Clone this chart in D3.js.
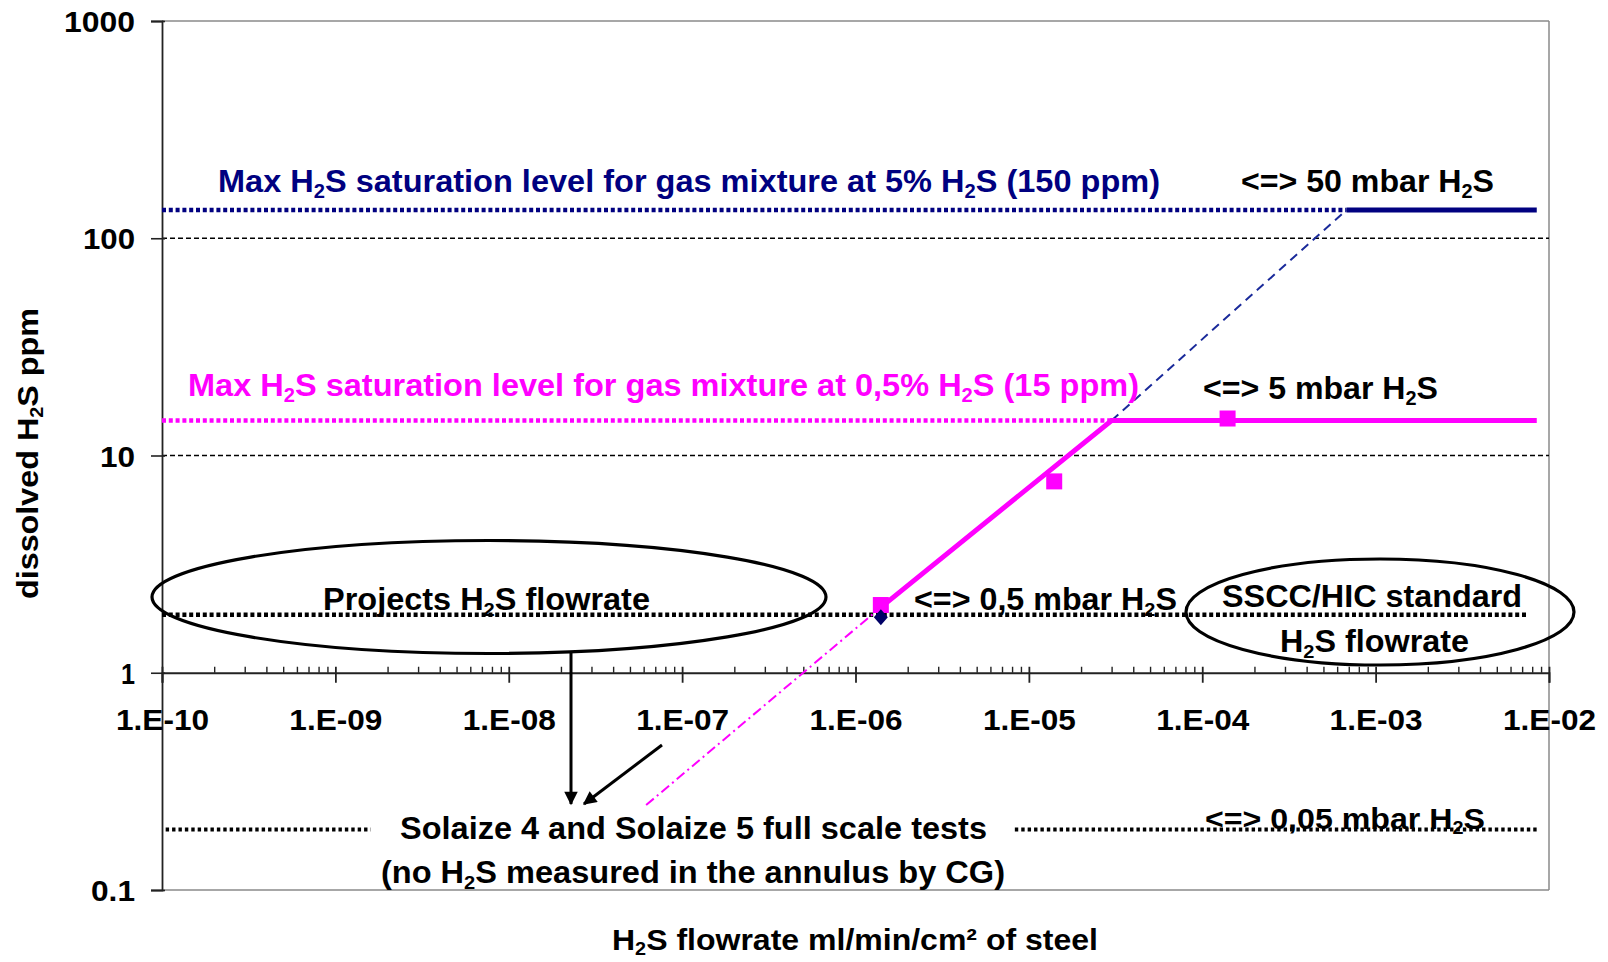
<!DOCTYPE html>
<html>
<head>
<meta charset="utf-8">
<script src="https://cdn.jsdelivr.net/npm/d3@7"></script>
<style>
  html, body { margin: 0; padding: 0; background: #fff; }
  svg { display: block; }
</style>
</head>
<body>
<svg id="chart" width="1608" height="962"></svg>
<script>
// ---------- data ----------
const xTickValues = [1e-10, 1e-9, 1e-8, 1e-7, 1e-6, 1e-5, 1e-4, 1e-3, 1e-2];
const xTickLabels = ["1.E-10", "1.E-09", "1.E-08", "1.E-07", "1.E-06", "1.E-05", "1.E-04", "1.E-03", "1.E-02"];
const yTickValues = [0.1, 1, 10, 100, 1000];
const yTickLabels = ["0.1", "1", "10", "100", "1000"];

// measured points (pink squares) and diamond
const squareX = [1.4e-6, 1.4e-5, 1.4e-4];
const squareY = [2.05, 7.6, 14.8];
const diamondX = [1.4e-6];
const diamondY = [1.8];

// saturation level 5% H2S (navy)
const sat5DottedX = [1e-10, 6.8e-4];
const sat5DottedY = [135, 135];
const sat5SolidX = [6.8e-4, 8.5e-3];
const sat5SolidY = [135, 135];
const sat5DashX = [3e-5, 6.8e-4];
const sat5DashY = [14.5, 135];

// saturation level 0.5% H2S (magenta)
const sat05DottedX = [1e-10, 3e-5];
const sat05DottedY = [14.5, 14.5];
const sat05SolidX = [1.4e-6, 3e-5, 8.5e-3];
const sat05SolidY = [2.0, 14.5, 14.5];
const sat05DashDotX = [6.2e-8, 1.4e-6];
const sat05DashDotY = [0.246, 2.0];

// 0.5 mbar and 0.05 mbar reference levels (black dotted)
const lvl05X = [1e-10, 7.5e-3];
const lvl05Y = [1.85, 1.85];
const lvl005X1 = [1.05e-10, 1.6e-9];
const lvl005X2 = [8.3e-6, 8.5e-3];
const lvl005Y = [0.19, 0.19];

// ---------- setup ----------
const FONT = "'Liberation Sans', Arial, Helvetica, sans-serif";
const svg = d3.select("#chart");
const plotL = 162, plotR = 1549, plotT = 21, plotB = 890;

const x = d3.scaleLog().domain([1e-10, 1e-2]).range([plotL, plotR]);
const y = d3.scaleLog().domain([0.1, 1000]).range([plotB, plotT]);

const pts = (xs, ys) => xs.map((v, i) => [v, ys[i]]);
const line = d3.line().x(d => x(d[0])).y(d => y(d[1]));

// ---------- frame & gridlines ----------
svg.append("line").attr("x1", plotL).attr("x2", plotR).attr("y1", y(1000)).attr("y2", y(1000))
  .attr("stroke", "#8a8a8a").attr("stroke-width", 1.5);
svg.append("line").attr("x1", plotL).attr("x2", plotR).attr("y1", y(0.1)).attr("y2", y(0.1))
  .attr("stroke", "#8a8a8a").attr("stroke-width", 1.5);
svg.append("line").attr("x1", plotR).attr("x2", plotR).attr("y1", y(1000)).attr("y2", y(0.1))
  .attr("stroke", "#8a8a8a").attr("stroke-width", 1.5);

[100, 10].forEach(v => {
  svg.append("line").attr("x1", plotL).attr("x2", plotR).attr("y1", y(v)).attr("y2", y(v))
    .attr("stroke", "#000").attr("stroke-width", 1.3).attr("stroke-dasharray", "5,3");
});

// ---------- y axis ----------
const yAxis = svg.append("g").attr("transform", `translate(${plotL},0)`)
  .call(d3.axisLeft(y).tickValues(yTickValues).tickSize(11).tickPadding(16)
    .tickFormat((d, i) => yTickLabels[i]));
yAxis.select(".domain").attr("stroke", "#222").attr("stroke-width", 1.8);
yAxis.selectAll(".tick line").attr("stroke", "#222").attr("stroke-width", 1.6).attr("x2", -11).attr("x1", 3);
yAxis.selectAll(".tick text")
  .attr("font-family", FONT).attr("font-size", 30).attr("font-weight", "bold").attr("fill", "#000")
  .attr("dy", "0.35em")
  .attr("textLength", (d, i) => [44, 14, 35, 52, 71][i]).attr("lengthAdjust", "spacingAndGlyphs");

// ---------- x axis (crossing at 1) ----------
const minorTicks = [];
xTickValues.slice(0, -1).forEach(d => { for (let k = 2; k <= 9; k++) minorTicks.push(d * k); });

const xMinor = svg.append("g").attr("transform", `translate(0,${y(1)})`)
  .call(d3.axisTop(x).tickValues(minorTicks).tickSize(6).tickFormat(""));
xMinor.select(".domain").remove();
xMinor.selectAll(".tick line").attr("stroke", "#222").attr("stroke-width", 1.4);

const xAxis = svg.append("g").attr("transform", `translate(0,${y(1)})`)
  .call(d3.axisBottom(x).tickValues(xTickValues).tickSize(10).tickPadding(36)
    .tickFormat((d, i) => xTickLabels[i]));
xAxis.select(".domain").attr("stroke", "#222").attr("stroke-width", 1.8);
xAxis.selectAll(".tick line").attr("stroke", "#222").attr("stroke-width", 1.8).attr("y1", -6);
xAxis.selectAll(".tick text")
  .attr("font-family", FONT).attr("font-size", 30).attr("font-weight", "bold").attr("fill", "#000")
  .attr("dy", "0")
  .attr("textLength", 93).attr("lengthAdjust", "spacingAndGlyphs");
xAxis.selectAll(".tick text").attr("y", 57);

// ---------- series lines ----------
const DOT = "4,2.8";
svg.append("path").datum(pts(lvl05X, lvl05Y)).attr("d", line)
  .attr("fill", "none").attr("stroke", "#000").attr("stroke-width", 4.5).attr("stroke-dasharray", DOT);
[lvl005X1, lvl005X2].forEach(xs => {
  svg.append("path").datum(pts(xs, lvl005Y)).attr("d", line)
    .attr("fill", "none").attr("stroke", "#000").attr("stroke-width", 4).attr("stroke-dasharray", "3.4,3");
});

svg.append("path").datum(pts(sat5DottedX, sat5DottedY)).attr("d", line)
  .attr("fill", "none").attr("stroke", "#000080").attr("stroke-width", 4.5).attr("stroke-dasharray", DOT);
svg.append("path").datum(pts(sat5DashX, sat5DashY)).attr("d", line)
  .attr("fill", "none").attr("stroke", "#1a2a9a").attr("stroke-width", 2).attr("stroke-dasharray", "9,6");
svg.append("path").datum(pts(sat5SolidX, sat5SolidY)).attr("d", line)
  .attr("fill", "none").attr("stroke", "#000080").attr("stroke-width", 5);

svg.append("path").datum(pts(sat05DottedX, sat05DottedY)).attr("d", line)
  .attr("fill", "none").attr("stroke", "#ff00ff").attr("stroke-width", 4.5).attr("stroke-dasharray", DOT);
svg.append("path").datum(pts(sat05DashDotX, sat05DashDotY)).attr("d", line)
  .attr("fill", "none").attr("stroke", "#ff00ff").attr("stroke-width", 2).attr("stroke-dasharray", "10,4,2,4");
svg.append("path").datum(pts(sat05SolidX, sat05SolidY)).attr("d", line)
  .attr("fill", "none").attr("stroke", "#ff00ff").attr("stroke-width", 5).attr("stroke-linejoin", "miter");

// markers
svg.selectAll(".sq").data(pts(squareX, squareY)).enter().append("rect").attr("class", "sq")
  .attr("x", d => x(d[0]) - 8).attr("y", d => y(d[1]) - 8)
  .attr("width", 16).attr("height", 16).attr("fill", "#ff00ff");
svg.selectAll(".dm").data(pts(diamondX, diamondY)).enter().append("path").attr("class", "dm")
  .attr("transform", d => `translate(${x(d[0])},${y(d[1])})`)
  .attr("d", "M0,-8 L7,0 L0,8 L-7,0 Z").attr("fill", "#000066");

// ---------- ellipses & arrows ----------
svg.append("ellipse").attr("cx", 489).attr("cy", 597).attr("rx", 337).attr("ry", 56.5)
  .attr("fill", "none").attr("stroke", "#000").attr("stroke-width", 3.2);
svg.append("ellipse").attr("cx", 1380).attr("cy", 612).attr("rx", 194).attr("ry", 53)
  .attr("fill", "none").attr("stroke", "#000").attr("stroke-width", 3.2);

svg.append("defs").append("marker").attr("id", "arrow")
  .attr("viewBox", "0 0 10 10").attr("refX", 9).attr("refY", 5)
  .attr("markerWidth", 5).attr("markerHeight", 4.5).attr("orient", "auto")
  .attr("markerUnits", "strokeWidth")
  .append("path").attr("d", "M0,0 L10,5 L0,10 Z").attr("fill", "#000");
svg.append("line").attr("x1", 571).attr("y1", 653).attr("x2", 571).attr("y2", 804)
  .attr("stroke", "#000").attr("stroke-width", 3).attr("marker-end", "url(#arrow)");
svg.append("line").attr("x1", 662).attr("y1", 745).attr("x2", 584).attr("y2", 804)
  .attr("stroke", "#000").attr("stroke-width", 3).attr("marker-end", "url(#arrow)");

// ---------- text ----------
function label(xp, yp, parts, opts) {
  const size = opts.size || 30;
  const t = svg.append("text").attr("x", xp).attr("y", yp)
    .attr("font-family", FONT).attr("font-size", size).attr("font-weight", "bold")
    .attr("fill", opts.color || "#000");
  if (opts.anchor) t.attr("text-anchor", opts.anchor);
  if (opts.transform) t.attr("transform", opts.transform);
  let shifted = false;
  parts.forEach(p => {
    if (typeof p === "string") {
      const s = t.append("tspan").text(p);
      if (shifted) { s.attr("dy", -size * 0.18); shifted = false; }
    } else {
      t.append("tspan").text(p.sub).attr("font-size", size * 0.62).attr("dy", size * 0.18);
      shifted = true;
    }
  });
  if (opts.len) t.attr("textLength", opts.len).attr("lengthAdjust", "spacingAndGlyphs");
  return t;
}

label(218, 192, ["Max H", {sub: "2"}, "S saturation level for gas mixture at 5% H", {sub: "2"}, "S (150 ppm)"],
  {color: "#000080", size: 32, len: 942});
label(1241, 192, ["<=> 50 mbar H", {sub: "2"}, "S"], {size: 32, len: 253});
label(188, 396, ["Max H", {sub: "2"}, "S saturation level for gas mixture at 0,5% H", {sub: "2"}, "S (15 ppm)"],
  {color: "#ff00ff", size: 32, len: 951});
label(1203, 399, ["<=> 5 mbar H", {sub: "2"}, "S"], {size: 32, len: 235});
label(323, 610, ["Projects H", {sub: "2"}, "S flowrate"], {size: 31, len: 327});
label(914, 610, ["<=> 0,5 mbar H", {sub: "2"}, "S"], {size: 31, len: 263});
label(1222, 607, ["SSCC/HIC standard"], {size: 31, len: 300});
label(1280, 652, ["H", {sub: "2"}, "S flowrate"], {size: 31, len: 189});
label(400, 839, ["Solaize 4 and Solaize 5 full scale tests"], {size: 31, len: 587});
label(381, 883, ["(no H", {sub: "2"}, "S measured in the annulus by CG)"], {size: 31, len: 624});
label(1205, 829, ["<=> 0,05 mbar H", {sub: "2"}, "S"], {size: 30, len: 280});

// axis titles
label(612, 950, ["H", {sub: "2"}, "S flowrate ml/min/cm² of steel"], {size: 30, len: 486});
label(0, 0, ["dissolved H", {sub: "2"}, "S ppm"],
  {size: 29, len: 291, transform: "translate(38,599) rotate(-90)"});
</script>
</body>
</html>
